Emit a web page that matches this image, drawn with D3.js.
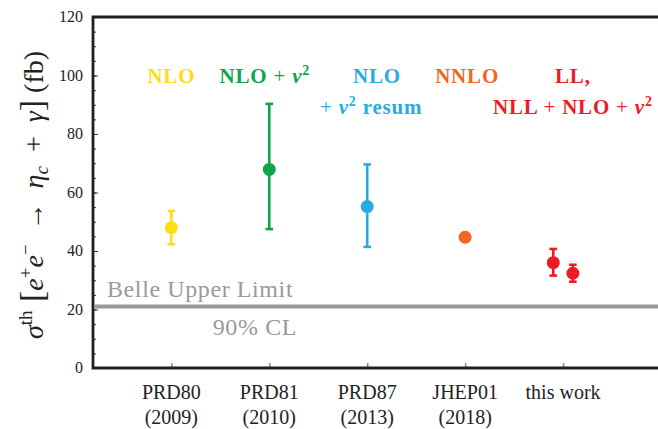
<!DOCTYPE html>
<html>
<head>
<meta charset="utf-8">
<script src="https://cdn.jsdelivr.net/npm/d3@7"></script>
</head>
<body style="margin:0">
<svg></svg>
<script>
const width = 658;
const height = 429;
const fam = "Liberation Serif";

// categories along the x axis
const categories = ["PRD80", "PRD81", "PRD87", "JHEP01", "this work"];
const years = ["(2009)", "(2010)", "(2013)", "(2018)", ""];
const catPos = [1, 2, 3, 4, 5];

// predictions (fb), one entry per point
const pointX = [1, 2, 3, 4, 4.9, 5.1];
const central = [48.0, 67.9, 55.2, 44.7, 36.0, 32.4];
const errHi = [53.7, 90.3, 69.6, null, 40.7, 35.3];
const errLo = [42.3, 47.5, 41.4, null, 31.6, 29.5];
const pointGroup = ["nlo", "nlov2", "resum", "nnlo", "this", "this"];

const belleLimit = 21;
const yMajor = [0, 20, 40, 60, 80, 100, 120];

const colors = {
  nlo: "#ffdd15",
  nlov2: "#0ca54b",
  resum: "#29abe2",
  nnlo: "#f26522",
  this: "#ed1c24",
};

const margin = { left: 93, top: 17, bottom: 368 };

const svg = d3.select("svg").attr("width", width).attr("height", height);

const x = d3.scaleLinear().domain([0.2, 6]).range([margin.left, 661]);
const y = d3.scaleLinear().domain([0, 120]).range([margin.bottom, margin.top]);

// serif text helper
function txt(parent) {
  return parent.append("text").style("font-family", `"${fam}"`);
}

// minor ticks on left axis
svg
  .append("g")
  .attr("transform", `translate(${margin.left},0)`)
  .call(d3.axisLeft(y).tickValues(d3.range(0, 121, 5)).tickSize(-3).tickFormat(""))
  .call((g) => g.select(".domain").remove())
  .call((g) => g.selectAll("text").remove())
  .call((g) => g.selectAll("line").attr("stroke", "#333").attr("stroke-width", 1));

// major ticks
svg
  .append("g")
  .attr("transform", `translate(${margin.left},0)`)
  .call(d3.axisLeft(y).tickValues(yMajor).tickSize(-5).tickFormat(""))
  .call((g) => g.select(".domain").remove())
  .call((g) => g.selectAll("text").remove())
  .call((g) => g.selectAll("line").attr("stroke", "#333").attr("stroke-width", 1));

// y tick labels
yMajor.forEach((v) => {
  txt(svg)
    .attr("x", margin.left - 10)
    .attr("y", y(v))
    .attr("dy", "0.33em")
    .attr("text-anchor", "end")
    .attr("font-size", 16)
    .attr("fill", "#222")
    .text(v);
});

// bottom ticks (gray, pointing inside)
svg
  .append("g")
  .attr("transform", `translate(0,${margin.bottom})`)
  .call(d3.axisBottom(x).tickValues(catPos).tickSize(-5).tickFormat(""))
  .call((g) => g.select(".domain").remove())
  .call((g) => g.selectAll("text").remove())
  .call((g) => g.selectAll("line").attr("stroke", "#888").attr("stroke-width", 1.5));

// category labels, two rows
catPos.forEach((c, i) => {
  txt(svg)
    .attr("x", x(c))
    .attr("y", 399)
    .attr("text-anchor", "middle")
    .attr("font-size", 20)
    .attr("fill", "#222")
    .text(categories[i]);
  if (years[i])
    txt(svg)
      .attr("x", x(c))
      .attr("y", 424)
      .attr("text-anchor", "middle")
      .attr("font-size", 20)
      .attr("fill", "#222")
      .text(years[i]);
});

// frame
svg
  .append("path")
  .attr("d", `M${width + 5},${margin.top}H${margin.left}V${margin.bottom}H${width + 5}`)
  .attr("fill", "none")
  .attr("stroke", "#231f20")
  .attr("stroke-width", 2.8);

// Belle upper limit
svg
  .append("line")
  .attr("x1", margin.left + 1)
  .attr("x2", width)
  .attr("y1", y(belleLimit))
  .attr("y2", y(belleLimit))
  .attr("stroke", "#999")
  .attr("stroke-width", 4);

txt(svg)
  .attr("x", 107)
  .attr("y", y(belleLimit) - 10)
  .attr("font-size", 24)
  .attr("letter-spacing", 0.6)
  .attr("fill", "#9a9a9a")
  .text("Belle Upper Limit");

txt(svg)
  .attr("x", 297)
  .attr("y", y(belleLimit) + 28)
  .attr("text-anchor", "end")
  .attr("font-size", 24)
  .attr("letter-spacing", 0.6)
  .attr("fill", "#9a9a9a")
  .text("90% CL");

// error bars
const points = pointX.map((px, i) => ({
  x: px,
  c: central[i],
  hi: errHi[i],
  lo: errLo[i],
  color: colors[pointGroup[i]],
}));

const bars = svg
  .append("g")
  .selectAll("g")
  .data(points.filter((d) => d.hi !== null))
  .enter()
  .append("g")
  .attr("stroke", (d) => d.color)
  .attr("stroke-width", 2.6);

bars
  .append("line")
  .attr("x1", (d) => x(d.x))
  .attr("x2", (d) => x(d.x))
  .attr("y1", (d) => y(d.hi))
  .attr("y2", (d) => y(d.lo));
bars
  .append("line")
  .attr("x1", (d) => x(d.x) - 3.8)
  .attr("x2", (d) => x(d.x) + 3.8)
  .attr("y1", (d) => y(d.hi))
  .attr("y2", (d) => y(d.hi));
bars
  .append("line")
  .attr("x1", (d) => x(d.x) - 3.8)
  .attr("x2", (d) => x(d.x) + 3.8)
  .attr("y1", (d) => y(d.lo))
  .attr("y2", (d) => y(d.lo));

svg
  .append("g")
  .selectAll("circle")
  .data(points)
  .enter()
  .append("circle")
  .attr("cx", (d) => x(d.x))
  .attr("cy", (d) => y(d.c))
  .attr("r", 6.5)
  .attr("fill", (d) => d.color);

// method labels at the top
function label(px, py, color, parts) {
  const t = txt(svg)
    .attr("x", x(px))
    .attr("y", py)
    .attr("text-anchor", "middle")
    .attr("font-size", 21)
    .attr("font-weight", "bold")
    .attr("letter-spacing", 0.8)
    .attr("fill", color);
  parts.forEach((p) => {
    const s = t.append("tspan").text(p.t);
    if (p.it) s.attr("font-style", "italic");
    if (p.n) s.attr("font-weight", "normal");
    if (p.sup) s.attr("font-size", 14).attr("dy", -8);
    if (p.back) s.attr("dy", 8);
  });
  return t;
}

const v2 = [
  { t: "v", it: true },
  { t: "2", sup: true },
];

label(1, 83, colors.nlo, [{ t: "NLO" }]);
label(1.955, 83, colors.nlov2, [{ t: "NLO " }, { t: "+ ", n: true }, ...v2]);
label(3.1, 83, colors.resum, [{ t: "NLO" }]);
label(3.04, 114, colors.resum, [{ t: "+ ", n: true }, ...v2, { t: " resum", back: true }]);
label(4.02, 83, colors.nnlo, [{ t: "NNLO" }]);
label(5.1, 83, colors.this, [{ t: "LL," }]);
label(5.1, 114, colors.this, [
  { t: "NLL " },
  { t: "+ ", n: true },
  { t: "NLO " },
  { t: "+ ", n: true },
  ...v2,
]);

// y axis title
const yt = txt(svg)
  .attr("transform", "translate(43,195) rotate(-90)")
  .attr("text-anchor", "middle")
  .attr("font-size", 28)
  .attr("fill", "#222");
const small = (s) => s.attr("font-size", 19);
const sp = "\u2002";
yt.append("tspan").attr("font-style", "italic").text("σ");
small(yt.append("tspan")).attr("dy", -11).text("th");
yt.append("tspan").attr("dy", 11).attr("font-size", 34).text(" [");
yt.append("tspan").attr("font-style", "italic").text("e");
small(yt.append("tspan")).attr("dy", -11).text("+");
yt.append("tspan").attr("dy", 11).attr("font-style", "italic").text("e");
small(yt.append("tspan")).attr("dy", -11).text("−");
yt.append("tspan").attr("dy", 11).text(`${sp}→${sp}`);
yt.append("tspan").attr("font-style", "italic").text("η");
small(yt.append("tspan")).attr("font-style", "italic").attr("dy", 5).text("c");
yt.append("tspan").attr("dy", -5).text(`${sp}+${sp}`);
yt.append("tspan").attr("font-style", "italic").text("γ");
yt.append("tspan").attr("font-size", 34).text("]");
yt.append("tspan").text(" (fb)");
</script>
</body>
</html>
